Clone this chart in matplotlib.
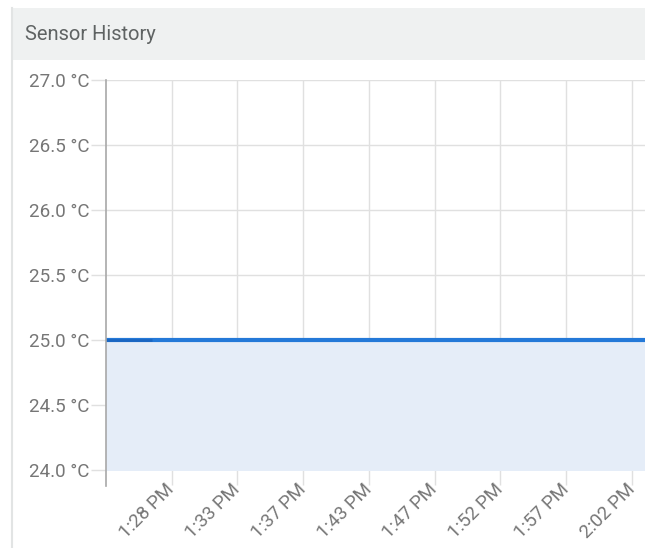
import matplotlib.pyplot as plt
from matplotlib.patches import Rectangle
from matplotlib.lines import Line2D

# sensor readings (x = position along the time axis, one unit per label step)
reading_pos = [0.0, 0.7, 8.2]
reading_temp = [25.0, 25.0, 25.0]

tick_pos = [1, 2, 3, 4, 5, 6, 7, 8]
tick_labels = ['1:28 PM', '1:33 PM', '1:37 PM', '1:43 PM', '1:47 PM', '1:52 PM', '1:57 PM', '2:02 PM']
y_ticks = [24.0, 24.5, 25.0, 25.5, 26.0, 26.5, 27.0]

plt.rcParams['font.family'] = ['Roboto', 'DejaVu Sans']
text_col = '#767676'
grid_col = '#e0e0e0'

fig = plt.figure(figsize=(6.45, 5.48), dpi=100)

# card header + left border
fig.patches.append(Rectangle((12 / 645, 1 - 60 / 548), 1, 52 / 548, transform=fig.transFigure,
                             facecolor='#eff1f1', edgecolor='none', zorder=0))
fig.lines.append(Line2D([12 / 645, 12 / 645], [0, 1 - 8 / 548], transform=fig.transFigure,
                        color='#e2e4e4', lw=1.5))
fig.text(25 / 645, 1 - 34 / 548, 'Sensor History', fontsize=14.5, color='#5f6363', va='center')

ax = fig.add_axes([106 / 645, 1 - 470 / 548, 539 / 645, 390 / 548])
ax.set_xlim(0, 8.2)
ax.set_ylim(24.0, 27.0)

ax.fill_between(reading_pos, reading_temp, 24.0, color='#e5edf8', zorder=1)
ax.plot(reading_pos, reading_temp, color='#2479d8', lw=3, solid_capstyle='butt', zorder=3)
ax.plot(reading_pos[:2], reading_temp[:2], color='#1a66c2', lw=2, solid_capstyle='butt', zorder=4)

ax.set_xticks(tick_pos)
ax.set_xticklabels(tick_labels, rotation=45, ha='right', va='center', rotation_mode='anchor')
ax.set_yticks(y_ticks)
ax.set_yticklabels([f'{v:.1f} °C' for v in y_ticks])

ax.grid(True, color=grid_col, lw=1)
ax.set_axisbelow(True)
ax.tick_params(axis='both', colors=grid_col, labelcolor=text_col, labelsize=13.5, length=11, width=1)
ax.tick_params(axis='y', pad=1)
ax.tick_params(axis='x', pad=1)
for s in ax.spines.values():
    s.set_visible(False)
ax.plot([0, 0], [-0.04, 1], transform=ax.transAxes, color='#a8a8a8', lw=1.2, clip_on=False, zorder=5)

fig.savefig('out.png', dpi=100)
